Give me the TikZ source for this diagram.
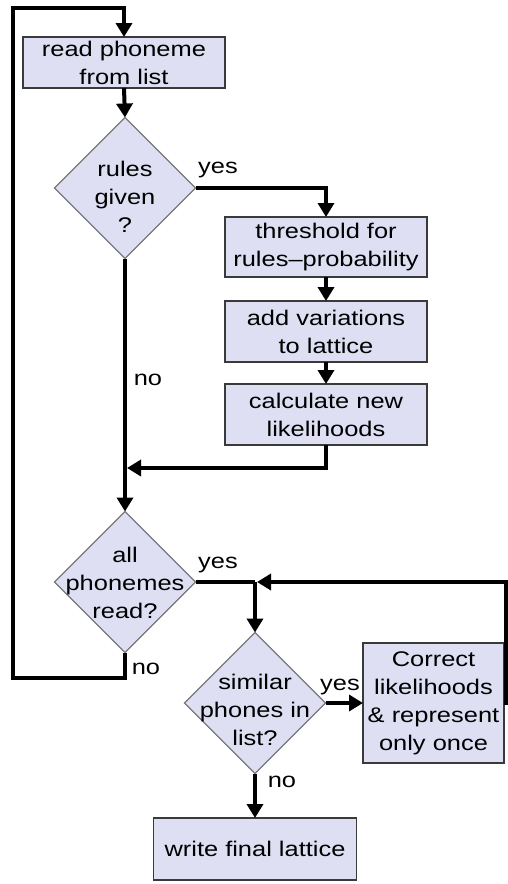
\documentclass[tikz,border=0pt]{standalone}
\usepackage{fontspec}
\setmainfont[FakeStretch=1.2]{Liberation Sans}
\usetikzlibrary{arrows.meta,shapes.geometric}
\definecolor{boxfill}{RGB}{222,223,243}
\definecolor{boxline}{RGB}{58,58,58}
\definecolor{diaLine}{RGB}{120,120,120}
\begin{document}
\begin{tikzpicture}[x=1pt,y=-1pt,
  every node/.style={font=\fontsize{21.2}{28}\selectfont, inner sep=0pt, outer sep=0pt},
  procbox/.style={draw=boxline, line width=1.5pt, fill=boxfill, align=center},
  decision/.style={diamond, aspect=1, draw=diaLine, line width=1.3pt, fill=boxfill,
                   minimum width=141pt, minimum height=141pt},
  dtext/.style={align=center},
  flow/.style={line width=4pt, draw=black},
  arr/.style={flow, -{Triangle[width=16pt,length=14pt]}},
  lbl/.style={anchor=base}
]
\useasboundingbox[fill=white] (0,0) rectangle (508,884);

% process boxes
\node[procbox, minimum width=202pt, minimum height=51pt] (b1) at (124,62.5) {read phoneme\\from list};
\node[procbox, minimum width=202pt, minimum height=60pt] (b2) at (326,247) {threshold for\\rules--probability};
\node[procbox, minimum width=202pt, minimum height=61pt] (b3) at (326,331.5) {add variations\\to lattice};
\node[procbox, minimum width=202pt, minimum height=61pt] (b4) at (326,414.5) {calculate new\\likelihoods};
\node[procbox, minimum width=141pt, minimum height=120pt] (b5) at (433.5,703) {Correct\\likelihoods\\\& represent\\only once};
\node[procbox, minimum width=203pt, minimum height=62pt] (b6) at (255,849) {write final lattice};

% decisions
\node[decision] (d1) at (125,188) {};
\node[dtext] (t1) at (125,197) {rules\\given\\?};
\node[decision] (d2) at (125,582) {};
\node[dtext] (t2) at (125,583) {all\\phonemes\\read?};
\node[decision] (d3) at (255,703) {};
\node[dtext] (t3) at (255,710) {similar\\phones in\\list?};

% helper points
\coordinate (j1) at (127,468);
\coordinate (j2) at (255,582);
\coordinate (jr) at (257,582);
\coordinate (r1) at (506,703);
\coordinate (l1) at (13,678);
\coordinate (l2) at (13,8);

% connectors
\draw[arr] (b1.south) -- (d1.north);
\draw[arr] (d1.east) -| (b2.north);
\draw[arr] (b2.south) -- (b3.north);
\draw[arr] (b3.south) -- (b4.north);
\draw[arr] (b4.south) |- (j1);
\draw[arr] (d1.south) -- (d2.north);
\draw[flow] (d2.east) -- (j2);
\draw[arr] (j2) -- (d3.north);
\draw[arr] (b5.east) -- (r1) |- (jr);
\draw[arr] (d2.south) |- (l1) -- (l2) -| (b1.north);
\draw[arr] (d3.east) -- (b5.west);
\draw[arr] (d3.south) -- (b6.north);

% branch labels
\node[lbl] (y1) at (218,173) {yes};
\node[lbl] (n1) at (148,385) {no};
\node[lbl] (y2) at (218,568) {yes};
\node[lbl] (n2) at (146,674) {no};
\node[lbl] (y3) at (340,690) {yes};
\node[lbl] (n3) at (282,787) {no};
\end{tikzpicture}
\end{document}
